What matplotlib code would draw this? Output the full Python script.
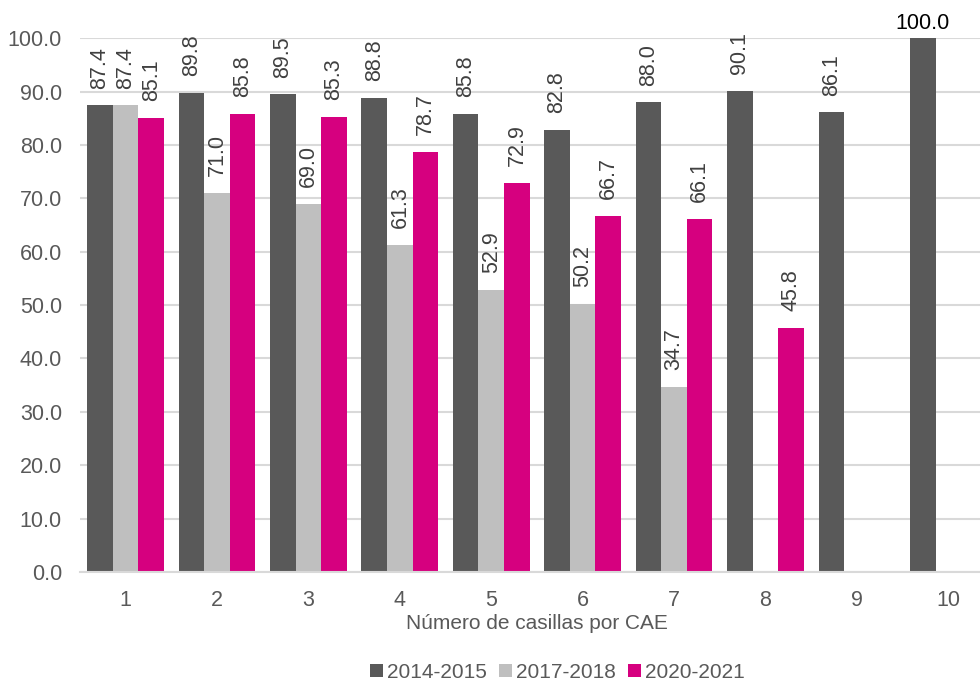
import numpy as np
import matplotlib.pyplot as plt

plt.rcParams['font.family'] = ['Liberation Sans', 'DejaVu Sans']

# Datos
categorias = ["1", "2", "3", "4", "5", "6", "7", "8", "9", "10"]
series = ["2014-2015", "2017-2018", "2020-2021"]
v_2014 = [87.4, 89.8, 89.5, 88.8, 85.8, 82.8, 88.0, 90.1, 86.1, 100.0]
v_2017 = [87.4, 71.0, 69.0, 61.3, 52.9, 50.2, 34.7, None, None, None]
v_2020 = [85.1, 85.8, 85.3, 78.7, 72.9, 66.7, 66.1, 45.8, None, None]

colores = ["#595959", "#BFBFBF", "#D6007F"]
texto = "#595959"

fig = plt.figure(figsize=(9.8, 6.81), dpi=100)
ax = fig.add_axes([0.0816, 0.160, 0.9327, 0.784])

x = np.arange(len(categorias))
ancho = 0.28
for i, (nombre, vals) in enumerate(zip(series, [v_2014, v_2017, v_2020])):
    pos = x + (i - 1) * ancho
    alturas = [np.nan if v is None else v for v in vals]
    ax.bar(pos, alturas, width=ancho, color=colores[i], label=nombre, zorder=2)
    for p, v in zip(pos, vals):
        if v is None:
            continue
        if v >= 100:
            ax.annotate(f"{v:.1f}", (p, v), xytext=(0, 3), textcoords="offset points",
                        ha="center", va="bottom", fontsize=15.5, color="black")
        else:
            ax.annotate(f"{v:.1f}", (p, v), xytext=(0, 12), textcoords="offset points",
                        ha="center", va="bottom", rotation=90, fontsize=15.5, color="#404040")

ax.set_xlim(-0.5, len(categorias) - 0.5)
ax.set_ylim(0, 100)
ax.set_yticks(np.arange(0, 101, 10))
ax.set_yticklabels([f"{t:.1f}" for t in np.arange(0, 101, 10)])
ax.set_xticks(x)
ax.set_xticklabels(categorias)
ax.tick_params(length=0, labelsize=15.5, colors=texto)
ax.tick_params(axis="x", pad=13)
ax.tick_params(axis="y", pad=13)
ax.grid(axis="y", color="#D9D9D9", linewidth=1.5, zorder=0)
ax.set_axisbelow(True)
for s in ["top", "right", "left"]:
    ax.spines[s].set_visible(False)
ax.spines["bottom"].set_color("#D9D9D9")
ax.spines["bottom"].set_linewidth(1.5)
ax.set_xlabel("Número de casillas por CAE", fontsize=15, color=texto, labelpad=2)

fig.legend(loc="center", bbox_to_anchor=(0.569, 0.013), ncol=3, frameon=False,
           fontsize=15, labelcolor=texto, handlelength=0.6, handleheight=0.6,
           handletextpad=0.2, columnspacing=0.6)

plt.savefig("out.png", dpi=100)
